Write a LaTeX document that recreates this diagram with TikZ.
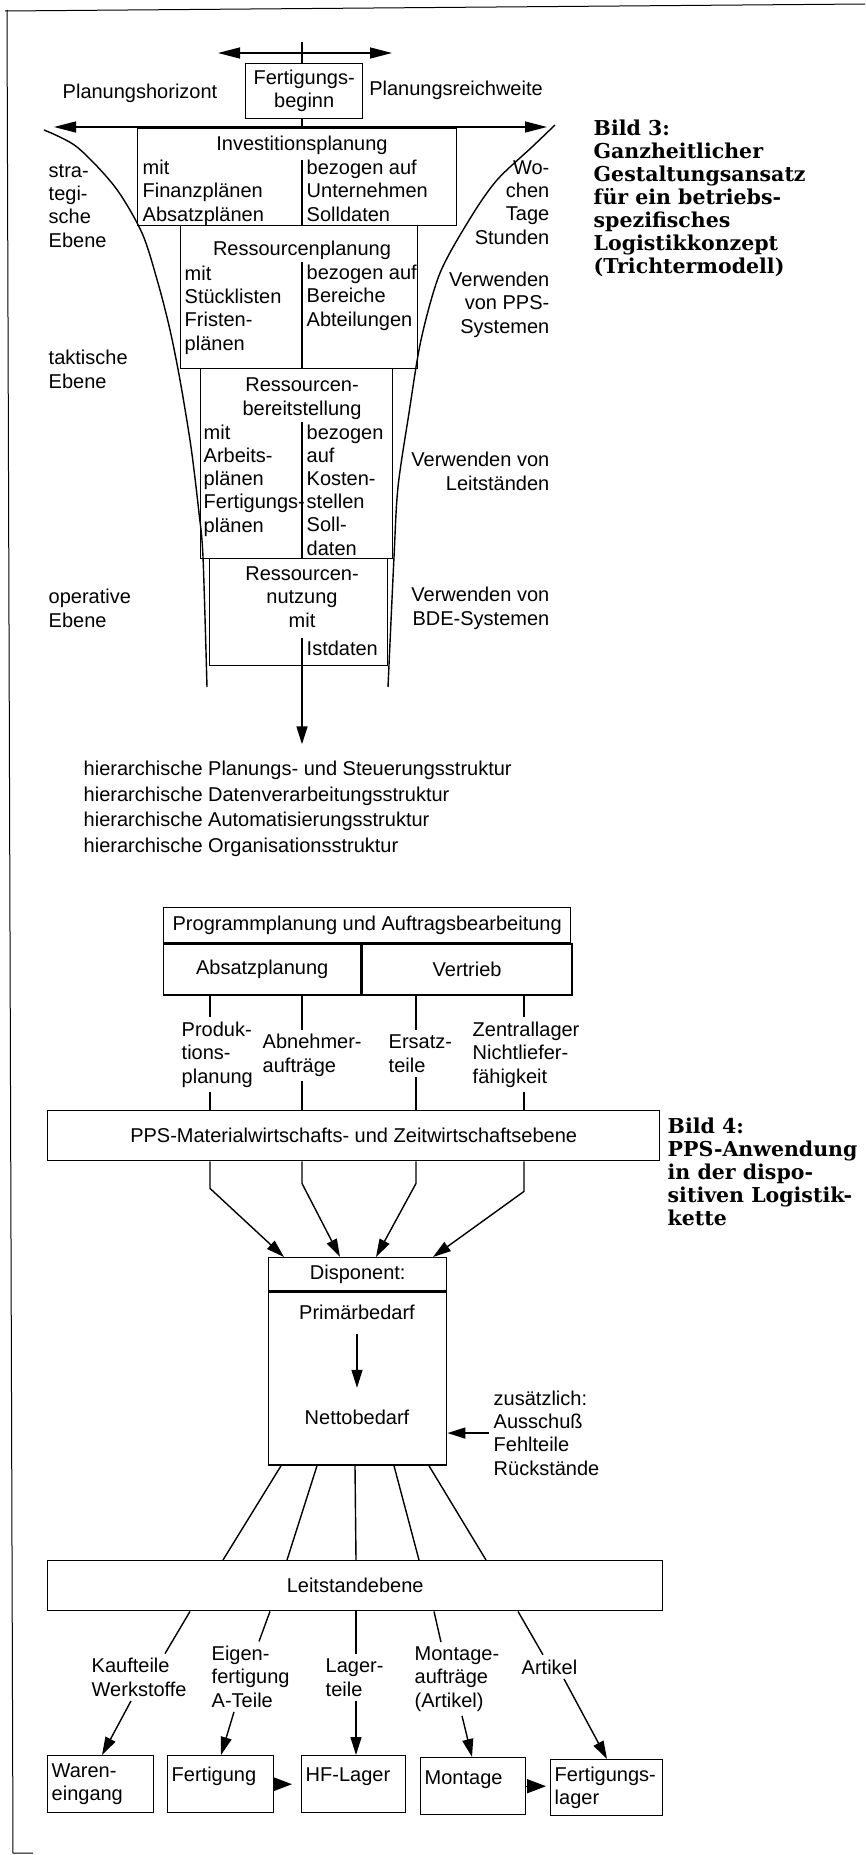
\documentclass[tikz,border=0pt]{standalone}
\usepackage{fontspec}
\setmainfont{Liberation Sans}
\newfontfamily\bildfont{DejaVu Serif}
\usetikzlibrary{arrows.meta,positioning}

\begin{document}
\begin{tikzpicture}[x=1pt, y=-1pt, line width=1.4pt,
        % Grundschrift wie im Original
            every node/.style={font=\fontsize{20pt}{23.2pt}\selectfont, inner sep=2pt},
        % Kaesten mit festen Massen, links oben angesetzt
            box/.style={rectangle, draw, anchor=north west},
            lager/.style={box, align=left, minimum height=57pt, inner sep=4pt},
        % Spaltentext, an der Grundlinie der letzten Zeile
            col/.style={align=left, anchor=base west},
            lbl/.style={align=left, anchor=base west, inner sep=4pt},
            rlbl/.style={align=right, anchor=base east},
            arrow/.style={-{Triangle[length=18pt,width=11pt]}},
            dblarrow/.style={{Triangle[length=22pt,width=11pt]}-{Triangle[length=22pt,width=11pt]}},
            bild/.style={font=\bildfont\bfseries\fontsize{20.5pt}{23pt}\selectfont, align=left, anchor=base west, inner sep=0pt}
        ]
            \useasboundingbox (0,0) rectangle (865,1855);
            % --- RAHMEN ---
            \draw[line width=1pt] (5,11) -- (865,4);
            \draw[line width=1pt] (7,10) -- (13,1853) -- (33,1853);

            % --- FERTIGUNGSBEGINN ---
            \coordinate (axis) at (302,42);
            \node[box, minimum width=117pt, minimum height=55pt, align=center] (fb) at (245,63) {Fertigungs-\\beginn};
            \coordinate (hl) at (218,53);
            \coordinate (hr) at (392,53);
            \draw[dblarrow] (hl) -- (hr);
            \draw (axis) -- (axis |- fb.north);
            \node[anchor=base] (phor) at (140,98) {Planungshorizont};
            \node[anchor=base] (preich) at (456,95) {Planungsreichweite};

            % --- TRICHTER ---
            \node[box, minimum width=319pt, minimum height=97pt] (inv) at (137,128) {};
            \draw (axis |- fb.south) -- (axis |- inv.north);
            \coordinate (pl) at (54,127);
            \coordinate (pr) at (547,127);
            \draw[dblarrow] (pl) -- (pr);
            \node[anchor=base] (invT) at (302,150) {Investitionsplanung};
            \node[col] (invL) at (140,221) {mit\\Finanzplänen\\Absatzplänen};
            \node[col] (invR) at (304,221) {bezogen auf\\Unternehmen\\Solldaten};
            \draw (302,160) -- (axis |- inv.south);

            \node[box, minimum width=237pt, minimum height=143pt] (rpl) at (180,225) {};
            \node[anchor=base] (rplT) at (302,255) {Ressourcenplanung};
            \node[col] (rplL) at (182,350) {mit\\Stücklisten\\Fristen-\\plänen};
            \node[col] (rplR) at (304,326) {bezogen auf\\Bereiche\\Abteilungen};
            \draw (302,262) -- (axis |- rpl.south);

            \node[box, minimum width=192pt, minimum height=190pt] (bereit) at (200,368) {};
            \node[anchor=base, align=center] (bereitT) at (302,415) {Ressourcen-\\bereitstellung};
            \node[col] (bereitL) at (201,532) {mit\\Arbeits-\\plänen\\Fertigungs-\\plänen};
            \node[col] (bereitR) at (304,555) {bezogen\\auf\\Kosten-\\stellen\\Soll-\\daten};
            \draw (302,422) -- (axis |- bereit.south);

            \node[box, minimum width=178pt, minimum height=107pt] (nutz) at (209,558) {};
            \node[anchor=base, align=center] (nutzT) at (302,627) {Ressourcen-\\nutzung\\mit};
            \node[col] (nutzR) at (304,655) {Istdaten};

            % Trichterkurven
            \draw plot[smooth] coordinates {(44,130) (77,147) (115,187) (142,233) (158,283) (170,330) (180,380) (191,447) (199,513) (203,557) (207,687)};
            \draw plot[smooth] coordinates {(555,125) (532,147) (497,180) (471,217) (440,273) (421,340) (409,413) (398,487) (394,557) (388,687)};

            % Ebenen und Werkzeuge
            \node[col] (strat) at (46,247) {stra-\\tegi-\\sche\\Ebene};
            \node[col] (takt) at (46,388) {taktische\\Ebene};
            \node[col] (oper) at (46,627) {operative\\Ebene};
            \node[rlbl] (zeit) at (552,244) {Wo-\\chen\\Tage\\Stunden};
            \node[rlbl] (vpps) at (552,333) {Verwenden\\von PPS-\\Systemen};
            \node[rlbl] (vleit) at (552,490) {Verwenden von\\Leitständen};
            \node[rlbl] (vbde) at (552,625) {Verwenden von\\BDE-Systemen};

            % Ergebnis
            \node[col, font=\fontsize{20pt}{25.5pt}\selectfont] (hier) at (81,852) {hierarchische Planungs- und Steuerungsstruktur\\hierarchische Datenverarbeitungsstruktur\\hierarchische Automatisierungsstruktur\\hierarchische Organisationsstruktur};
            \draw[arrow, shorten >=14pt] (axis |- nutzR.north) -- (axis |- hier.north);

            \node[bild] (bild3) at (593,273) {Bild 3:\\Ganzheitlicher\\Gestaltungsansatz\\für ein betriebs-\\spezifisches\\Logistikkonzept\\(Trichtermodell)};

            % --- PPS-ANWENDUNG ---
            \node[box, minimum width=407pt, minimum height=35pt] (prog) at (163,907) {Programmplanung und Auftragsbearbeitung};
            \node[box, minimum width=197pt, minimum height=51pt] (absatz) at (prog.south west) {Absatzplanung};
            \node[box, minimum width=210pt, minimum height=51pt] (vertrieb) at (absatz.north east) {Vertrieb};

            \coordinate (s1) at (210,0);
            \coordinate (s2) at (302,0);
            \coordinate (s3) at (416,0);
            \coordinate (s4) at (524,0);
            \node[lbl] (prod) at (177,1083) {Produk-\\tions-\\planung};
            \node[lbl] (abn) at (258,1072) {Abnehmer-\\aufträge};
            \node[lbl] (ers) at (384,1072) {Ersatz-\\teile};
            \node[lbl] (zent) at (468,1083) {Zentrallager\\Nichtliefer-\\fähigkeit};

            \node[box, minimum width=612pt, minimum height=50pt] (ppsebene) at (47,1110) {PPS-Materialwirtschafts- und Zeitwirtschaftsebene};

            \draw (s1 |- absatz.south) -- (s1 |- prod.north);
            \draw (s1 |- prod.south) -- (s1 |- ppsebene.north);
            \draw (s2 |- absatz.south) -- (s2 |- abn.north);
            \draw (s2 |- abn.south) -- (s2 |- ppsebene.north);
            \draw (s3 |- vertrieb.south) -- (s3 |- ers.north);
            \draw (s3 |- ers.south) -- (s3 |- ppsebene.north);
            \draw (s4 |- vertrieb.south) -- (s4 |- zent.north);
            \draw (s4 |- zent.south) -- (s4 |- ppsebene.north);

            % Disponent
            \node[box, minimum width=178pt, minimum height=33pt] (disp) at (268,1257) {Disponent:};
            \node[box, minimum width=178pt, minimum height=173pt] (bedarf) at (disp.south west) {};
            \node[anchor=base] (prim) at (357,1319) {Primärbedarf};
            \node[anchor=base] (netto) at (357,1424) {Nettobedarf};
            \draw[arrow, shorten <=12pt, shorten >=19pt] (prim) -- (netto);

            \draw[arrow] (s1 |- ppsebene.south) -- ++(0,27) -- ([xshift=16pt]disp.north west);
            \draw[arrow] (s2 |- ppsebene.south) -- ++(0,22) -- ([xshift=72pt]disp.north west);
            \draw[arrow] (s3 |- ppsebene.south) -- ++(0,22) -- ([xshift=108pt]disp.north west);
            \draw[arrow] (s4 |- ppsebene.south) -- ++(0,30) -- ([xshift=165pt]disp.north west);

            \node[lbl] (extra) at (489,1475) {zusätzlich:\\Ausschuß\\Fehlteile\\Rückstände};
            \draw[arrow] (extra.west) -- (extra.west -| bedarf.east);

            % Leitstand
            \node[box, minimum width=615pt, minimum height=50pt] (leit) at (47,1560) {Leitstandebene};
            \draw ([xshift=13pt]bedarf.south west) -- ([xshift=176pt]leit.north west);
            \draw ([xshift=49pt]bedarf.south west) -- ([xshift=240pt]leit.north west);
            \draw ([xshift=87pt]bedarf.south west) -- ([xshift=309pt]leit.north west);
            \draw ([xshift=126pt]bedarf.south west) -- ([xshift=372pt]leit.north west);
            \draw ([xshift=161pt]bedarf.south west) -- ([xshift=439pt]leit.north west);

            \node[lbl] (kauf) at (87,1696) {Kaufteile\\Werkstoffe};
            \node[lbl] (eigen) at (207,1707) {Eigen-\\fertigung\\A-Teile};
            \node[lbl] (lagt) at (321,1696) {Lager-\\teile};
            \node[lbl] (montA) at (410,1707) {Montage-\\aufträge\\(Artikel)};
            \node[lbl] (artikel) at (517,1674) {Artikel};

            \draw ([xshift=143pt]leit.south west) -- ([xshift=78pt]kauf.north west);
            \draw ([xshift=223pt]leit.south west) -- ([xshift=52pt]eigen.north west);
            \draw ([xshift=309pt]leit.south west) -- ([xshift=35pt]lagt.north west);
            \draw ([xshift=387pt]leit.south west) -- ([xshift=31pt]montA.north west);
            \draw ([xshift=471pt]leit.south west) -- ([xshift=26pt]artikel.north west);

            % Lager und Fertigung
            \node[lager, text width=98pt] (waren) at (47,1755) {Waren-\\eingang};
            \node[lager, text width=98pt, text height=22pt, text depth=27pt] (fert) at (167,1755) {Fertigung};
            \node[lager, text width=96pt, text height=22pt, text depth=27pt] (hf) at (301,1755) {HF-Lager};
            \node[lager, text width=97pt, text height=22pt, text depth=26pt] (mont) at (420,1757) {Montage};
            \node[lager, text width=104pt, minimum height=56pt] (fl) at (550,1759) {Fertigungs-\\lager};

            \draw[arrow] ([xshift=44pt]kauf.south west) -- ([xshift=55pt]waren.north west);
            \draw[arrow] ([xshift=27pt]eigen.south west) -- ([xshift=54pt]fert.north west);
            \draw[arrow] ([xshift=35pt]lagt.south west) -- ([xshift=55pt]hf.north west);
            \draw[arrow] ([xshift=52pt]montA.south west) -- ([xshift=52pt]mont.north west);
            \draw[arrow] ([xshift=47pt]artikel.south west) -- ([xshift=57pt]fl.north west);

            \draw[-{Triangle[length=19pt,width=14pt]}, shorten >=9pt] (fert) -- (hf);
            \draw[-{Triangle[length=19pt,width=14pt]}, shorten >=4pt] (mont) -- (mont -| fl.west);

            \node[bild] (bild4) at (667,1225) {Bild 4:\\PPS-Anwendung\\in der dispo-\\sitiven Logistik-\\kette};
        \end{tikzpicture}
\end{document}
